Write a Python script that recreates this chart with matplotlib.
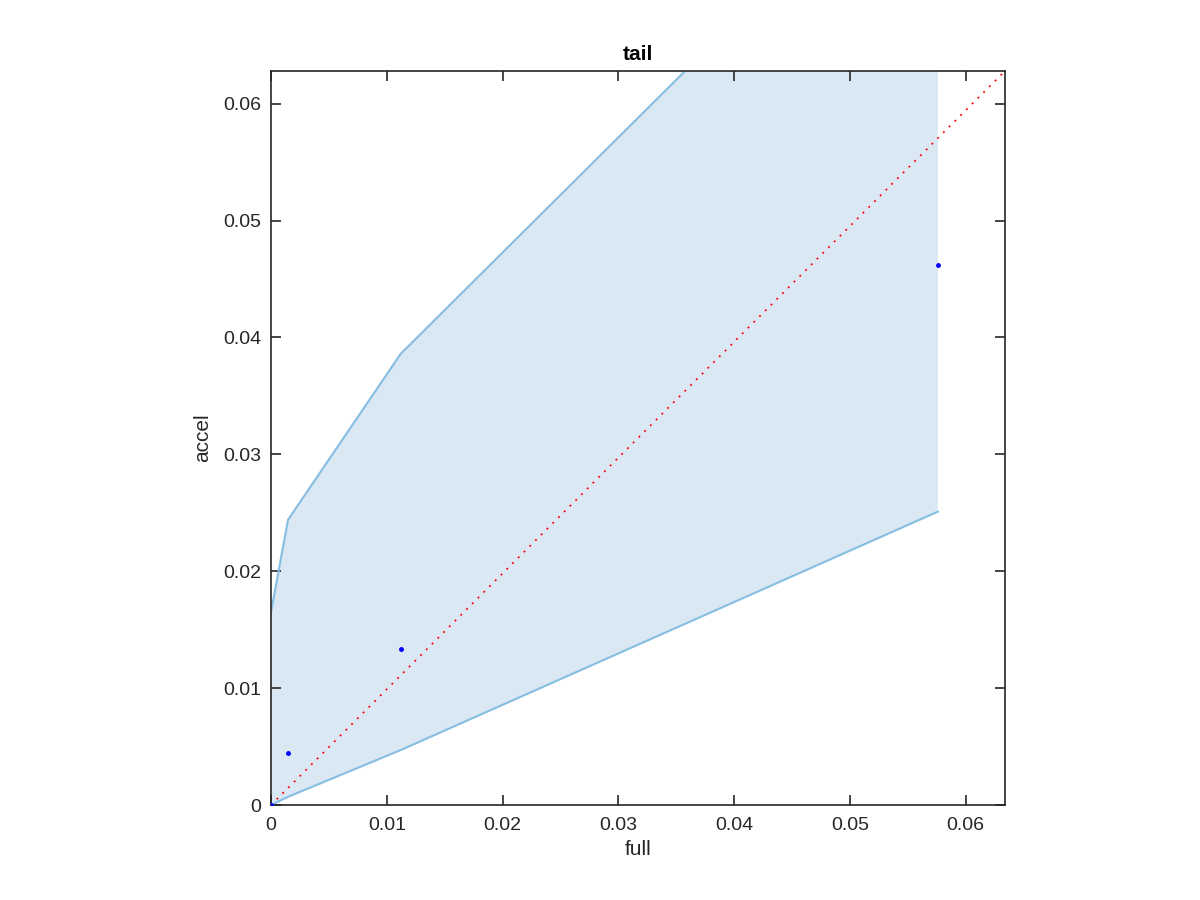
import matplotlib

matplotlib.use("Agg")
import matplotlib.pyplot as plt
import numpy as np

full = [0.0, 0.00147, 0.0112, 0.0576]
accel = [0.0, 0.00445, 0.01336, 0.04623]
upper = [0.0165, 0.0244, 0.0386, 0.0843]
lower = [0.0, 0.0007, 0.0047, 0.0251]

xmax = 0.0634
ymax = 0.0628

plt.rcParams["font.family"] = ["Liberation Sans", "DejaVu Sans"]
dark = "#262626"

fig = plt.figure(figsize=(12, 9), dpi=100)
ax = fig.add_axes([271 / 1200, 95 / 900, 734 / 1200, 734 / 900])

ax.fill_between(full, lower, upper, facecolor="#dae8f3", edgecolor="none", zorder=1)
ax.plot(full, upper, color="#86bde3", lw=1.5, zorder=2)
ax.plot(full, lower, color="#86bde3", lw=1.5, zorder=2)
ax.plot([0, xmax], [0, ymax], color="red", ls=(0, (1, 3.5)), lw=1.3, zorder=3)
ax.plot(full, accel, ".", color="blue", ms=5, zorder=4)

ax.set_xlim(0, xmax)
ax.set_ylim(0, ymax)
ticks = np.arange(0, 0.061, 0.01)
labels = ["0", "0.01", "0.02", "0.03", "0.04", "0.05", "0.06"]
ax.set_xticks(ticks, labels)
ax.set_yticks(ticks, labels)
ax.tick_params(direction="in", top=True, right=True, length=7, width=1.2,
               colors=dark, labelsize=14)
ax.tick_params(axis="x", pad=9)
ax.tick_params(axis="y", pad=7)
for s in ax.spines.values():
    s.set_color(dark)
    s.set_linewidth(1.2)

ax.set_xlabel("full", fontsize=15, color=dark, labelpad=4)
ax.set_ylabel("accel", fontsize=15, color=dark, labelpad=8)
ax.set_title("tail", fontsize=15, fontweight="bold", pad=8)

fig.savefig("out.png", dpi=100)
